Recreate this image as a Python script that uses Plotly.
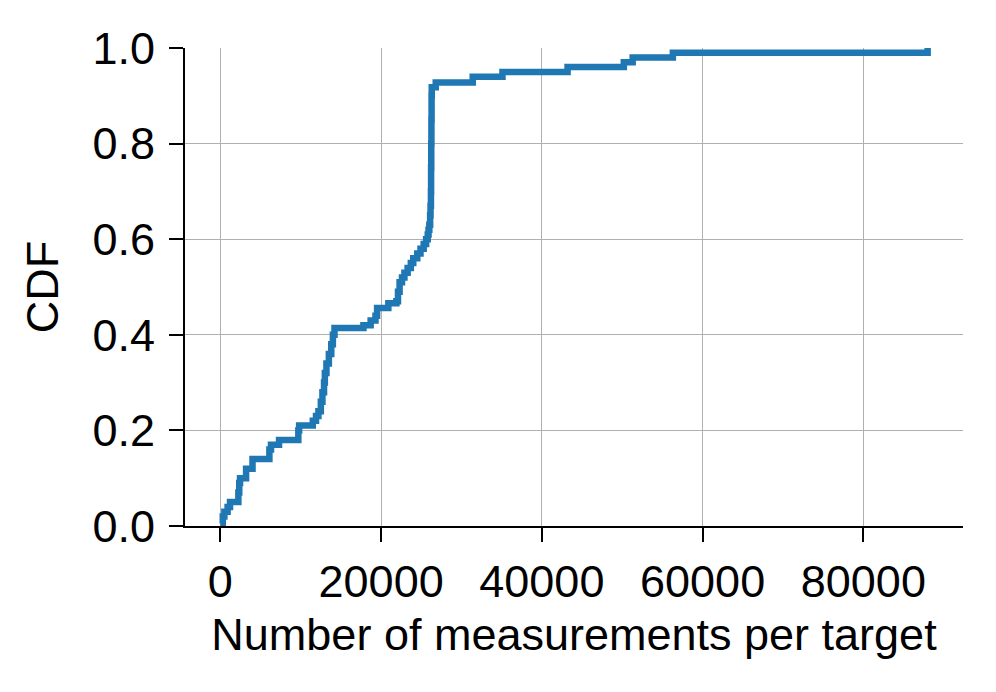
import plotly.graph_objects as go

# Step positions (measurements per target) and cumulative fraction after each step
measurements = [
    0, 300, 500, 900, 1200,
    2240, 2350, 2450,
    3200, 4000,
    6100, 6300, 7300,
    9700, 9800,
    11500, 11900, 12200, 12500, 12700, 12900, 13000, 13200, 13500, 13800, 14000, 14200,
    17800, 18700, 19300, 19500, 20900, 21900, 22100, 22300, 22600, 22900, 23300,
    23700, 24000, 24500, 24900, 25300, 25600, 25800, 25900, 26000, 26100, 26150,
    26200, 26220, 26240, 26260, 26280, 26300, 26800,
    31400, 35100, 43200, 50200, 51300, 56300, 88000,
]
cdf_values = [
    0.005, 0.02, 0.03, 0.04, 0.05,
    0.07, 0.09, 0.10,
    0.12, 0.14,
    0.16, 0.17, 0.18,
    0.20, 0.21,
    0.22, 0.23, 0.24, 0.26, 0.28, 0.30, 0.32, 0.34, 0.36, 0.38, 0.40, 0.414,
    0.42, 0.43, 0.44, 0.456, 0.466, 0.47, 0.49, 0.51, 0.52, 0.53, 0.54,
    0.55, 0.56, 0.57, 0.58, 0.59, 0.60, 0.61, 0.62, 0.63, 0.65, 0.67,
    0.70, 0.75, 0.80, 0.85, 0.90, 0.918, 0.928,
    0.94, 0.95, 0.96, 0.97, 0.98, 0.99, 1.0,
]

x_ticks = [0, 20000, 40000, 60000, 80000]
y_ticks = [0.0, 0.2, 0.4, 0.6, 0.8, 1.0]

FONT = 'Liberation Sans, Arial, Helvetica, sans-serif'

fig = go.Figure()

fig.add_trace(go.Scatter(
    x=measurements,
    y=cdf_values,
    mode='lines',
    line=dict(color='#1f77b4', width=6.5, shape='hv'),
    showlegend=False,
    cliponaxis=False
))

axis_style = dict(
    showline=True,
    linecolor='black',
    linewidth=2,
    ticks='outside',
    ticklen=14,
    tickwidth=1.5,
    tickcolor='black',
    showgrid=True,
    gridcolor='#b0b0b0',
    gridwidth=1,
    zeroline=False,
    automargin=False,
    tickfont=dict(size=45, color='black', family=FONT),
)

# page body adds a small offset, so margins are shifted to compensate
fig.update_layout(
    width=996,
    height=692,
    margin=dict(l=177, r=41, t=40, b=174),
    plot_bgcolor='white',
    paper_bgcolor='white',
    font=dict(family=FONT, color='black'),
    xaxis=dict(
        range=[-4400, 92400],
        tickvals=x_ticks,
        tickformat='d',
        ticklabelstandoff=1,
        title=dict(text='Number of measurements per target',
                   font=dict(size=45, color='black', family=FONT), standoff=12),
        **axis_style
    ),
    yaxis=dict(
        range=[0, 1],
        tickvals=y_ticks,
        tickformat='.1f',
        ticklabelstandoff=5,
        title=dict(text='CDF', font=dict(size=45, color='black', family=FONT), standoff=20),
        **axis_style
    ),
)

fig.write_html("out.html")
